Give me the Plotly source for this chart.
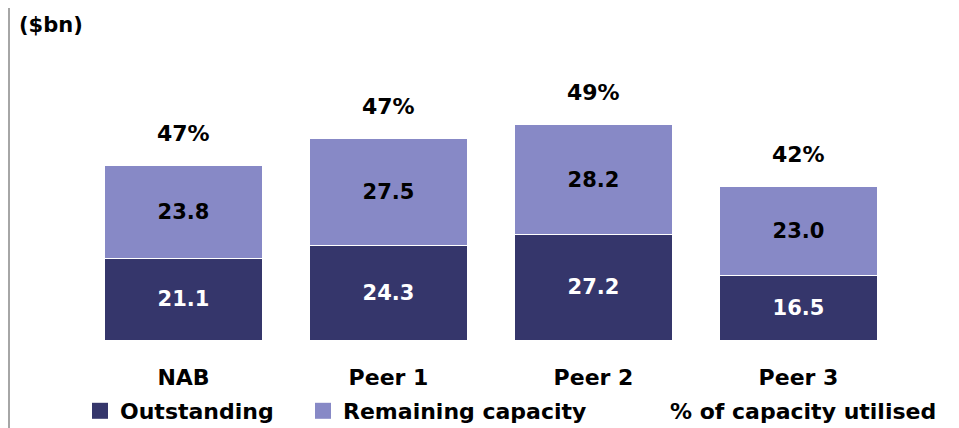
import plotly.graph_objects as go

categories = ["NAB", "Peer 1", "Peer 2", "Peer 3"]
outstanding = [21.1, 24.3, 27.2, 16.5]
remaining = [23.8, 27.5, 28.2, 23.0]
utilised = ["47%", "47%", "49%", "42%"]

DARK = "#35366b"
LIGHT = "#8789c6"
FONT = "DejaVu Sans"

W, H = 951, 420
L, R, T, B = 73, 58, 60, 88
PW, PH = W - L - R, H - T - B


def px_x(x):
    # figure pixel -> paper x
    return (x - L) / PW


def px_y(y):
    # figure pixel (from top) -> paper y
    return (H - B - y) / PH


totals = [o + r for o, r in zip(outstanding, remaining)]

fig = go.Figure()

fig.add_trace(
    go.Bar(
        x=categories, y=outstanding, name="Outstanding", showlegend=False,
        legendgroup="out",
        marker=dict(color=DARK, line=dict(color="white", width=1)),
        text=[f"{v:.1f}" for v in outstanding],
        textposition="inside", insidetextanchor="middle",
        textfont=dict(family=FONT, size=21, color="white", weight="bold"),
        width=0.775,
    )
)
fig.add_trace(
    go.Bar(
        x=categories, y=remaining, name="Remaining capacity", showlegend=False,
        legendgroup="rem",
        marker=dict(color=LIGHT, line=dict(color="white", width=1)),
        text=[f"{v:.1f}" for v in remaining],
        textposition="inside", insidetextanchor="middle",
        textfont=dict(family=FONT, size=21, color="black", weight="bold"),
        width=0.775,
    )
)

# legend entries with square markers, one legend each so they can be placed
for name, color, grp, lg in [
    ("Outstanding", DARK, "out", "legend"),
    ("Remaining capacity", LIGHT, "rem", "legend2"),
]:
    fig.add_trace(
        go.Scatter(
            x=[None], y=[None], mode="markers", name=name, legendgroup=grp,
            legend=lg, marker=dict(symbol="square", size=16, color=color),
        )
    )

# percentage labels above each stack
for cat, tot, pct in zip(categories, totals, utilised):
    fig.add_annotation(
        x=cat, y=tot, text=pct, showarrow=False, yshift=32,
        font=dict(family=FONT, size=22, color="black", weight="bold"),
    )

# third legend entry (text only)
fig.add_annotation(
    xref="paper", yref="paper", x=px_x(660), y=px_y(403),
    xanchor="left", yanchor="middle", text="% of capacity utilised",
    showarrow=False,
    font=dict(family=FONT, size=22, color="black", weight="bold"),
)

# units label
fig.add_annotation(
    xref="paper", yref="paper", x=px_x(9), y=px_y(17),
    xanchor="left", yanchor="middle", text="($bn)", showarrow=False,
    font=dict(family=FONT, size=21, color="black", weight="bold"),
)

# left border line
fig.add_shape(
    type="line", xref="paper", yref="paper",
    x0=px_x(1), x1=px_x(1), y0=px_y(H), y1=px_y(0),
    line=dict(color="#a6a6a6", width=2),
)

legend_style = dict(
    orientation="h", xanchor="left", y=px_y(403), yanchor="middle",
    font=dict(family=FONT, size=22, color="black", weight="bold"),
    bgcolor="rgba(0,0,0,0)",
)

fig.update_layout(
    barmode="stack",
    width=W,
    height=H,
    margin=dict(l=L, r=R, t=T, b=B, autoexpand=False),
    plot_bgcolor="white",
    paper_bgcolor="white",
    xaxis=dict(
        range=[-0.5, 3.5], showline=False, showgrid=False, ticks="",
        tickfont=dict(family=FONT, size=22, color="black", weight="bold"),
        ticklabelstandoff=22, automargin=False,
    ),
    yaxis=dict(range=[0, 70], visible=False, showgrid=False),
    showlegend=True,
    legend=dict(x=px_x(72), **legend_style),
    legend2=dict(x=px_x(295), **legend_style),
)

fig.write_html("out.html")
